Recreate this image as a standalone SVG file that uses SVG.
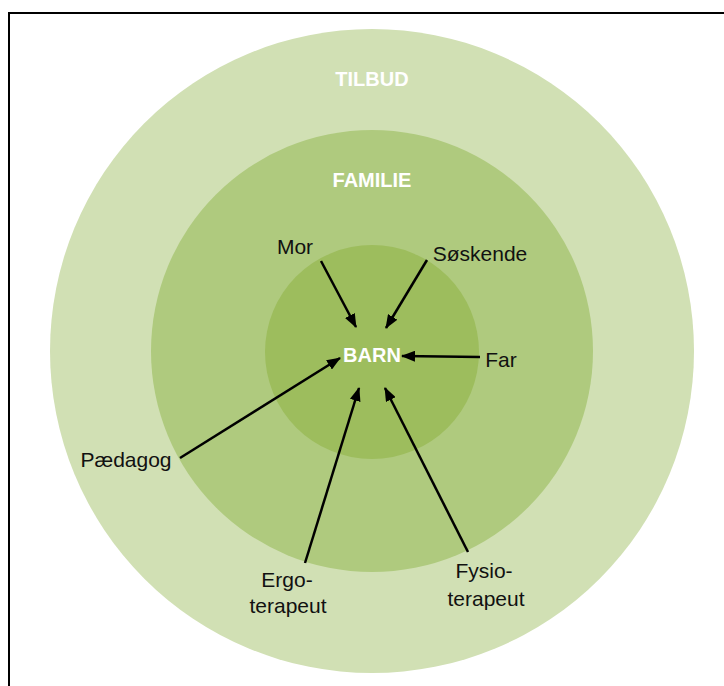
<svg xmlns="http://www.w3.org/2000/svg" width="724" height="686" viewBox="0 0 724 686">
<style>
.lbl{font-family:"Liberation Sans",Arial,sans-serif;font-size:21px;fill:#111111;text-anchor:middle}
.ttl{font-family:"Liberation Sans",Arial,sans-serif;font-size:20px;font-weight:bold;fill:#ffffff;text-anchor:middle}
.arr{stroke:#000;stroke-width:2.5;fill:none;marker-end:url(#ah)}
</style>
<defs>
<marker id="ah" viewBox="0 0 14 11" refX="13" refY="5.5" markerWidth="14" markerHeight="11" markerUnits="userSpaceOnUse" orient="auto">
<path d="M0,0 L14,5.5 L0,11 z" fill="#000"/>
</marker>
</defs>
<rect x="0" y="0" width="724" height="686" fill="#fff"/>
<rect x="9" y="13" width="740" height="700" fill="none" stroke="#000" stroke-width="2"/>
<g id="tilbud">
<circle cx="372" cy="351" r="322" fill="#D1E0B4"/>
<text class="ttl" x="372" y="86">TILBUD</text>
</g>
<g id="familie">
<circle cx="372" cy="351" r="221" fill="#AFCA7E"/>
<text class="ttl" x="372" y="187">FAMILIE</text>
</g>
<g id="barn">
<circle cx="372" cy="352" r="107" fill="#9DBD5D"/>
<text class="ttl" x="372" y="362">BARN</text>
</g>
<g id="mor"><text class="lbl" x="295" y="254">Mor</text></g>
<g id="soskende"><text class="lbl" x="480" y="261">Søskende</text></g>
<g id="far"><text class="lbl" x="501" y="367">Far</text></g>
<g id="paedagog"><text class="lbl" x="126" y="467">Pædagog</text></g>
<g id="ergoterapeut"><text class="lbl" x="287" y="587">Ergo-</text><text class="lbl" x="288" y="613">terapeut</text></g>
<g id="fysioterapeut"><text class="lbl" x="484" y="578">Fysio-</text><text class="lbl" x="486" y="606">terapeut</text></g>
<g id="connectors">
<line class="arr" x1="321" y1="261" x2="356" y2="327"/>
<line class="arr" x1="427" y1="260" x2="386" y2="328"/>
<line class="arr" x1="480" y1="357" x2="402" y2="356"/>
<line class="arr" x1="180" y1="458" x2="340" y2="358"/>
<line class="arr" x1="305" y1="563" x2="359" y2="388"/>
<line class="arr" x1="468" y1="552" x2="385" y2="388"/>
</g>
</svg>
